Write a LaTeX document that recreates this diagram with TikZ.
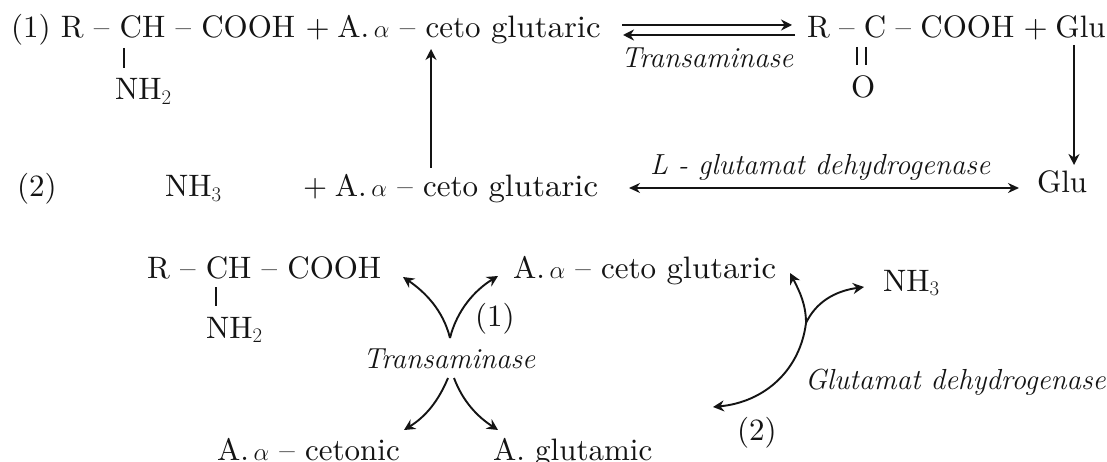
\documentclass[tikz,border=0pt]{standalone}
\usepackage{graphicx}
\usetikzlibrary{arrows.meta}
\definecolor{ink}{gray}{0.08}
\font\lblface="[lmroman10-regular]:+tlig;" at 31pt
\newcommand{\lblfont}{\fontsize{31}{34}\selectfont\lblface}
\newcommand{\enzfont}{\fontsize{29}{32}\selectfont\itshape}
\newcommand{\dashgap}{\hspace{.33em}–\hspace{.33em}}
\newcommand{\dashgapn}{\hspace{.3em}–\hspace{.3em}}
\newcommand{\glutw}{\scalebox{1.06}[1]{glutaric}}
\newcommand{\aalpha}{A.\hspace{.15em}$\alpha$}
\tikzset{
 lbl/.style={anchor=base west,inner sep=0pt,outer sep=0pt,text=ink,font=\lblfont},
 enz/.style={anchor=base west,inner sep=0pt,outer sep=0pt,text=ink,font=\enzfont},
 arr/.style={draw=ink,line width=1.9pt,-{Stealth[length=11pt,width=11pt]}},
 twoarr/.style={draw=ink,line width=1.7pt,{Stealth[length=11pt,width=10pt]}-{Stealth[length=11pt,width=10pt]}},
 bond/.style={draw=ink,line width=1.6pt}
}
\begin{document}
\begin{tikzpicture}[x=1pt,y=-1pt]
\useasboundingbox (0,0) rectangle (1107,462);
\fill[white] (0,0) rectangle (1107,462);
% first line
\node[lbl] (r1) at (11,38) {(1) R\dashgap CH\dashgap COOH + \hspace{-.08em}\aalpha\dashgap ceto \glutw};
\node[lbl] (p1) at (807,38) {R\dashgapn C\dashgapn COOH\hspace{.3em}+\hspace{.25em}Glu};
\node[lbl] (n1) at (115,100) {NH$_2$};
\node[lbl] (o1) at (851,98) {O};
\node[enz] (t1) at (621,68) {Transaminase};
\coordinate (f1a) at (622,25); \coordinate (f1b) at (792,25);
\coordinate (b1a) at (795,35); \coordinate (b1b) at (623,35);
\draw[arr] (f1a) -- (f1b);
\draw[arr] (b1a) -- (b1b);
\coordinate (c1a) at (124,48); \coordinate (c1b) at (124,68);
\draw[bond] (c1a) -- (c1b);
\coordinate (d1a) at (857,47); \coordinate (d1b) at (857,65);
\coordinate (d2a) at (866,47); \coordinate (d2b) at (866,65);
\draw[bond,line width=1.2pt] (d1a) -- (d1b);
\draw[bond,line width=1.2pt] (d2a) -- (d2b);
% second line
\node[lbl] (l2) at (17,197) {(2)};
\node[lbl] (n2) at (165,197) {NH$_3$};
\node[lbl] (k2) at (303,197) {+ \hspace{-.08em}\aalpha\dashgap ceto \glutw};
\node[enz] (e2) at (650,175) {L - glutamat dehydrogenase};
\node[lbl] (g2) at (1037,193) {Glu};
\coordinate (up1) at (431,168); \coordinate (up2) at (431,49);
\draw[arr] (up1) -- (up2);
\coordinate (dn1) at (1074,45); \coordinate (dn2) at (1074,165);
\draw[arr] (dn1) -- (dn2);
\coordinate (h2a) at (629,188); \coordinate (h2b) at (1019,188);
\draw[twoarr] (h2a) -- (h2b);
% cycle
\node[lbl] (r3) at (147,278) {R\dashgap CH\dashgap COOH};
\node[lbl] (n3) at (206,338) {NH$_2$};
\coordinate (c3a) at (216,287); \coordinate (c3b) at (216,306);
\draw[bond] (c3a) -- (c3b);
\node[lbl] (k3) at (513,278) {\aalpha\dashgap ceto \glutw};
\node[lbl] (a3) at (883,291) {NH$_3$};
\node[lbl] (one) at (475,326) {(1)};
\node[enz] (t3) at (363,368) {Transaminase};
\node[lbl] (ct) at (217,460) {\aalpha\dashgap cetonic};
\node[lbl] (gl) at (493,460) {A. glutamic};
\node[enz] (gd) at (805,389) {Glutamat dehydrogenase};
\node[lbl] (two) at (737,440) {(2)};
\coordinate (tt) at (450,338);
\coordinate (tl) at (403,277); \coordinate (tr) at (498,276);
\coordinate (bl0) at (448,378); \coordinate (bl) at (404,430);
\coordinate (br0) at (454,378); \coordinate (br) at (498,430);
\draw[arr] (tt) .. controls (443,310) and (425,292) .. (tl);
\draw[arr] (tt) .. controls (457,310) and (475,290) .. (tr);
\draw[arr] (bl0) .. controls (438,402) and (425,417) .. (bl);
\draw[arr] (br0) .. controls (463,402) and (478,417) .. (br);
\coordinate (ga) at (713,407); \coordinate (gb) at (790,273); \coordinate (gm) at (806,323); \coordinate (gc) at (864,287);
\draw[arr] (gm) .. controls (800,370) and (765,402) .. (ga);
\draw[arr] (gm) .. controls (806,305) and (800,292) .. (gb);
\draw[arr] (gm) .. controls (816,302) and (835,291) .. (gc);
\end{tikzpicture}
\end{document}
